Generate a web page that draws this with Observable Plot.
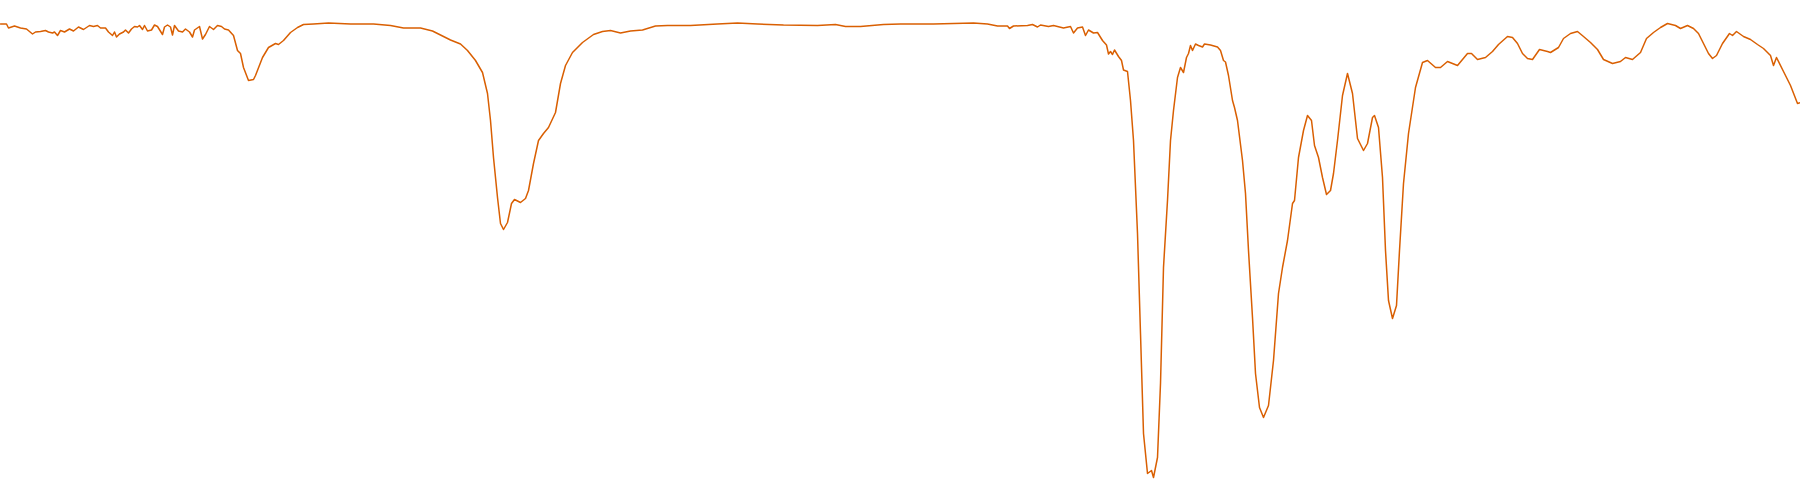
<!DOCTYPE html>
<html>
<head>
<meta charset="utf-8">
<script src="https://cdn.jsdelivr.net/npm/d3@7"></script>
<script src="https://cdn.jsdelivr.net/npm/@observablehq/plot@0.6"></script>
<style>
  html, body { margin: 0; padding: 0; background: #fff; }
  #chart svg { display: block; }
</style>
</head>
<body>
<div id="chart"></div>
<script>
// IR spectrum, wavenumber (cm-1) vs transmittance (%)
const wavenumber = [
  4000, 3988, 3984, 3972, 3960, 3948, 3936, 3930, 3920, 3910, 3904, 3896, 3892, 3886, 3880, 3872,
  3862, 3854, 3844, 3834, 3822, 3814, 3806, 3800, 3790, 3784, 3776, 3772, 3768, 3762, 3754, 3750,
  3744, 3738, 3732, 3726, 3722, 3716, 3712, 3706, 3698, 3692, 3686, 3676, 3672, 3666, 3660, 3656,
  3652, 3644, 3636, 3630, 3622, 3616, 3612, 3602, 3596, 3590, 3582, 3574, 3566, 3558, 3552, 3544,
  3534, 3526, 3520, 3514, 3504, 3494, 3490, 3476, 3464, 3450, 3444, 3434, 3420, 3406, 3394, 3374,
  3344, 3300, 3254, 3220, 3194, 3160, 3136, 3100,
  3080, 3066, 3050, 3036, 3026, 3020, 3014, 3006, 3000, 2994, 2986, 2978, 2972, 2960, 2950, 2944,
  2934, 2924, 2914, 2904, 2890, 2880, 2870, 2856, 2836, 2814, 2796, 2780, 2760, 2740, 2716, 2690,
  2666, 2620, 2566, 2526, 2486, 2434, 2366, 2330, 2310, 2280, 2234, 2200,
  2134, 2054, 2026, 2006, 1986, 1982, 1974, 1946, 1936, 1926, 1920, 1904, 1894, 1874, 1860, 1854,
  1846, 1836, 1830, 1824, 1814, 1806, 1796, 1788, 1784, 1780, 1776, 1772, 1764, 1758, 1754, 1746,
  1740, 1734, 1726, 1720, 1714, 1706, 1698, 1694, 1686, 1680, 1674, 1666, 1660, 1654, 1646, 1640,
  1634, 1628, 1624, 1620, 1616, 1610, 1604, 1596, 1592, 1580, 1566, 1560, 1554, 1550, 1544, 1536,
  1532, 1526, 1516, 1510, 1504, 1496, 1490, 1482, 1474, 1464, 1454, 1444, 1436, 1426, 1416, 1412,
  1404, 1394, 1386, 1378, 1372, 1364, 1356, 1348, 1340, 1334, 1326, 1316, 1306, 1296, 1286, 1274,
  1266, 1256, 1252, 1244, 1236, 1230, 1224, 1216, 1208, 1202, 1194, 1184, 1170, 1156, 1146, 1130,
  1120, 1106, 1086, 1066, 1058, 1046, 1030, 1016, 1004, 986, 976, 966, 956, 946, 936, 922,
  906, 900, 884, 874, 860, 846, 834, 820, 806, 794, 776, 760, 750, 736, 720, 708,
  694, 680, 666, 650, 640, 626, 614, 604, 594, 584, 576, 568, 556, 542, 536, 528,
  514, 500, 486, 474, 460, 454, 448, 434, 420, 406, 400
]
const transmittance = [
  95.3, 95.3, 94.5, 94.9, 94.5, 94.3, 93.3, 93.7, 93.8, 94.0, 93.7, 93.5, 93.7, 93.0, 94.0, 93.7,
  94.3, 93.9, 94.7, 94.2, 95.0, 94.8, 95.0, 94.5, 94.5, 93.7, 93.0, 93.7, 92.7, 93.3, 93.7, 94.1,
  93.5, 94.3, 94.8, 94.7, 95.0, 94.2, 95.0, 93.9, 94.1, 95.1, 94.8, 93.2, 94.7, 95.1, 94.7, 93.1,
  95.0, 93.9, 93.7, 94.3, 93.7, 92.7, 94.1, 94.8, 92.3, 93.2, 94.8, 94.2, 95.0, 94.8, 94.3, 94.1,
  93.0, 90.0, 89.4, 86.6, 84.0, 84.2, 85.0, 88.6, 90.6, 91.4, 91.2, 92.0, 93.6, 94.6, 95.2, 95.3,
  95.5, 95.3, 95.3, 95.0, 94.5, 94.5, 93.9, 92.1,
  91.3, 90.0, 88.0, 85.6, 81.4, 76.0, 68.6, 60.6, 55.4, 54.2, 55.6, 59.4, 60.2, 59.6, 60.4, 62.0,
  67.4, 72.0, 73.4, 74.6, 77.6, 83.4, 87.0, 89.6, 91.6, 93.2, 93.8, 94.0, 93.5, 93.9, 94.1, 94.9,
  95.0, 95.0, 95.3, 95.5, 95.3, 95.1, 95.0, 95.2, 94.8, 94.8, 95.2, 95.3,
  95.3, 95.5, 95.3, 94.9, 94.9, 94.4, 94.9, 95.0, 95.2, 94.7, 95.1, 94.8, 95.0, 94.5, 94.8, 93.5,
  94.5, 94.7, 93.0, 94.1, 93.5, 93.6, 92.0, 91.1, 89.3, 89.8, 89.2, 90.1, 88.8, 88.0, 86.1, 85.8,
  80.0, 72.0, 53.4, 33.4, 13.4, 5.4, 6.0, 4.6, 8.6, 23.4, 46.6, 60.0, 72.0, 78.0, 84.6, 86.6,
  85.6, 88.6, 89.4, 91.0, 90.0, 91.3, 91.0, 90.7, 91.3, 91.1, 90.7, 90.0, 88.0, 87.7, 85.0, 80.0,
  78.6, 76.0, 68.0, 61.4, 50.0, 36.6, 25.4, 18.6, 16.6, 19.0, 28.0, 41.4, 46.6, 52.0, 59.4, 60.0,
  68.6, 74.0, 77.0, 76.0, 71.0, 68.6, 64.6, 61.2, 62.0, 65.4, 72.0, 81.0, 85.4, 81.4, 72.4, 70.0,
  71.4, 76.6, 77.0, 74.6, 64.6, 50.0, 40.0, 36.4, 39.0, 50.0, 63.4, 73.4, 82.6, 87.6, 88.0, 86.6,
  86.6, 87.8, 87.0, 89.4, 89.4, 88.2, 88.6, 89.8, 91.2, 92.8, 92.6, 91.4, 89.4, 88.4, 88.2, 90.2,
  89.8, 89.6, 90.6, 92.4, 93.4, 93.8, 92.8, 91.6, 90.2, 88.2, 87.4, 87.8, 88.6, 88.2, 89.6, 92.4,
  93.6, 94.6, 95.4, 95.0, 94.4, 95.0, 94.4, 93.4, 91.4, 89.4, 88.4, 89.0, 91.4, 93.4, 93.0, 93.8,
  92.8, 92.2, 91.2, 90.4, 89.0, 87.0, 88.6, 85.8, 83.0, 79.4, 79.6
]

const spectrum = wavenumber.map((w, i) => ({wn: w, t: transmittance[i]}))

const chart = Plot.plot({
  width: 1800,
  height: 500,
  margin: 0,
  x: {domain: [4000, 400], axis: null},
  y: {domain: [0, 100], axis: null},
  marks: [
    Plot.line(spectrum, {x: 'wn', y: 't', stroke: '#d95f02', strokeWidth: 1.5})
  ]
})

d3.select('#chart').append(() => chart)
</script>
</body>
</html>
